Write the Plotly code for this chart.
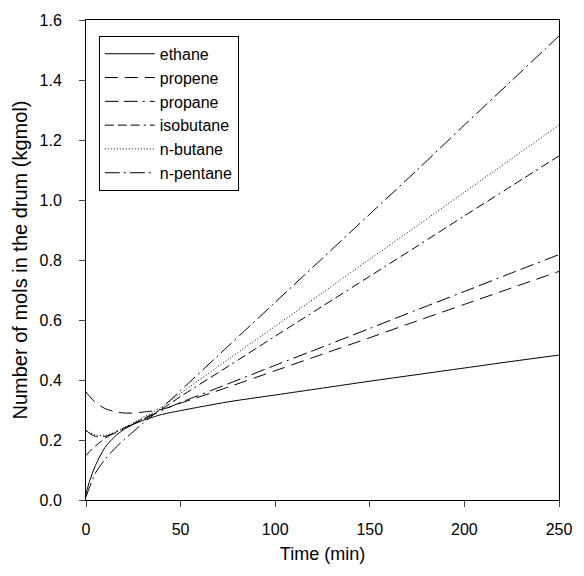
import plotly.graph_objects as go

time_min = [0, 2, 5, 10, 15, 20, 25, 30, 40, 50, 75, 100, 125, 150, 175, 200, 225, 250]

ethane = [0.02, 0.065, 0.115, 0.175, 0.21, 0.235, 0.252, 0.265, 0.285, 0.298, 0.327, 0.350, 0.373, 0.396, 0.418, 0.440, 0.462, 0.483]
propene = [0.36, 0.345, 0.325, 0.305, 0.295, 0.29, 0.29, 0.293, 0.302, 0.323, 0.376, 0.431, 0.486, 0.541, 0.597, 0.652, 0.707, 0.762]
propane = [0.232, 0.222, 0.212, 0.212, 0.222, 0.237, 0.253, 0.268, 0.298, 0.325, 0.387, 0.449, 0.510, 0.572, 0.634, 0.695, 0.757, 0.818]
isobutane = [0.148, 0.162, 0.18, 0.205, 0.225, 0.24, 0.255, 0.27, 0.303, 0.345, 0.445, 0.546, 0.646, 0.746, 0.846, 0.947, 1.047, 1.147]
n_butane = [0.232, 0.224, 0.217, 0.216, 0.225, 0.24, 0.257, 0.275, 0.31, 0.356, 0.468, 0.579, 0.691, 0.803, 0.914, 1.026, 1.138, 1.25]
n_pentane = [0.01, 0.045, 0.09, 0.135, 0.17, 0.2, 0.228, 0.255, 0.307, 0.365, 0.512, 0.659, 0.806, 0.953, 1.10, 1.25, 1.398, 1.547]

series_names = ["ethane", "propene", "propane", "isobutane", "n-butane", "n-pentane"]
series_values = [ethane, propene, propane, isobutane, n_butane, n_pentane]
dashes = [
    "solid",
    "13px,7px",
    "14px,5px,14px,5px,2px,5px",
    "9px,4px,9px,4px,9px,4px,2px,4px",
    "1px,2px",
    "15px,4px,2px,4px",
]

x_ticks = [0, 50, 100, 150, 200, 250]
y_ticks = [0.0, 0.2, 0.4, 0.6, 0.8, 1.0, 1.2, 1.4, 1.6]

fig = go.Figure()
for name, vals, dash in zip(series_names, series_values, dashes):
    fig.add_trace(go.Scatter(
        x=time_min, y=vals, name=name, mode="lines",
        line=dict(color="black", width=1, dash=dash, shape="spline", smoothing=0.8),
    ))

font_family = "Liberation Sans, Arial, sans-serif"
fig.update_layout(
    width=584, height=576,
    margin=dict(l=86, r=17, t=18, b=76),
    paper_bgcolor="white", plot_bgcolor="white",
    font=dict(family=font_family, size=16, color="black"),
    showlegend=True,
    legend=dict(
        x=0.027, y=0.967, xanchor="left", yanchor="top",
        bordercolor="black", borderwidth=1, bgcolor="white",
        font=dict(size=16), tracegroupgap=0, itemwidth=50,
    ),
    xaxis=dict(
        range=[0, 250], tickvals=x_ticks, ticks="outside", ticklen=6,
        ticklabelstandoff=9,
        showline=True, linecolor="black", linewidth=1, mirror=True,
        showgrid=False, zeroline=False,
        title=dict(text="Time (min)", font=dict(size=18), standoff=10),
        tickfont=dict(size=16),
    ),
    yaxis=dict(
        range=[0, 1.6], tickvals=y_ticks, tickformat=".1f", ticks="outside", ticklen=6,
        ticklabelstandoff=14,
        showline=True, linecolor="black", linewidth=1, mirror=True,
        showgrid=False, zeroline=False,
        title=dict(text="Number of mols in the drum (kgmol)", font=dict(size=20), standoff=6),
        tickfont=dict(size=16),
    ),
)

fig.write_html("out.html")
